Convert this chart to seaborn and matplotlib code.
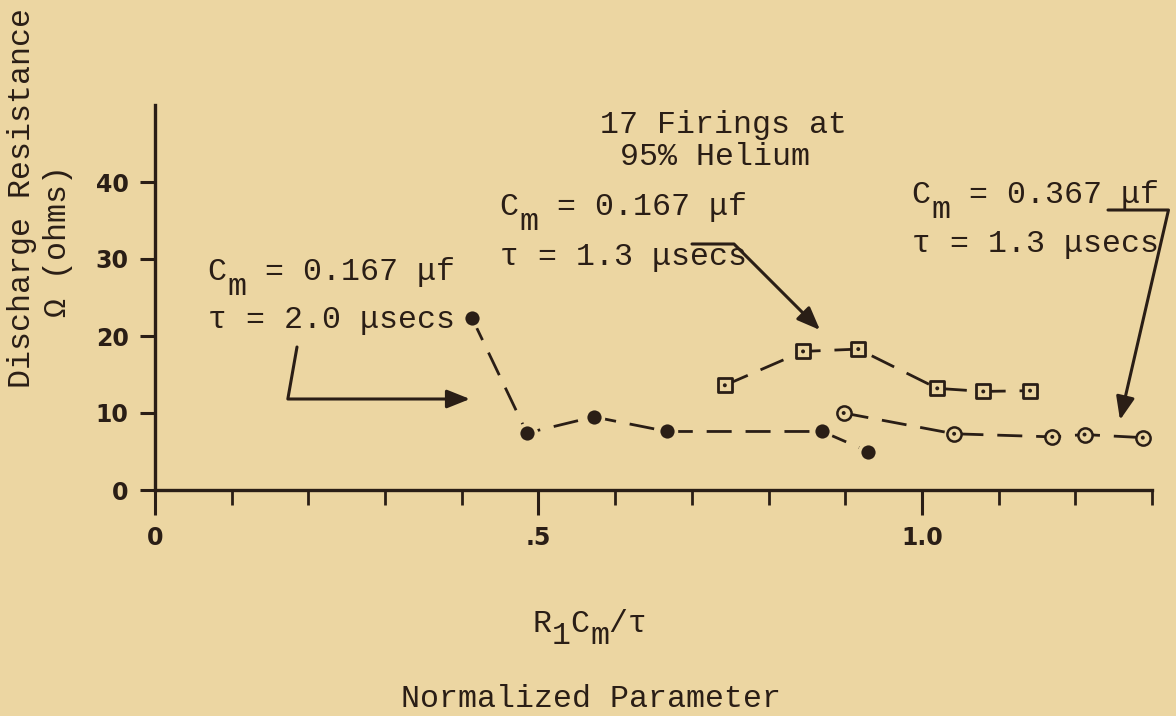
import matplotlib
matplotlib.use("Agg")
import matplotlib.pyplot as plt
from matplotlib.ticker import FixedLocator, MultipleLocator
import seaborn as sns

# ---------------- data ----------------
x_tau20 = [0.413, 0.485, 0.572, 0.668, 0.870, 0.930]
y_tau20 = [22.4, 7.4, 9.5, 7.6, 7.6, 5.0]

x_c167_tau13 = [0.743, 0.845, 0.917, 1.020, 1.080, 1.141]
y_c167_tau13 = [13.6, 18.0, 18.3, 13.2, 12.8, 12.9]

x_c367_tau13 = [0.898, 1.042, 1.170, 1.212, 1.288]
y_c367_tau13 = [10.0, 7.3, 6.9, 7.2, 6.8]

x_major_ticks = [0, 0.5, 1.0]
x_tick_labels = ["0", ".5", "1.0"]
y_ticks = [0, 10, 20, 30, 40]
y_tick_labels = ["0", "10", "20", "30", "40"]

# ---------------- style ----------------
BG = "#ECD6A2"
INK = "#2A1E16"
W, H = 1176, 716
FS = 22.8          # typewriter text size (pt)
MONO = ["Liberation Mono", "DejaVu Sans Mono"]

sns.set_theme(style="white", rc={"axes.facecolor": BG, "figure.facecolor": BG,
                                 "xtick.bottom": True, "ytick.left": True})
plt.rcParams["font.family"] = MONO


def fx(px):
    return px / W


def fy(py):
    return 1 - py / H


fig = plt.figure(figsize=(W / 100, H / 100), dpi=100, facecolor=BG)
ax = fig.add_axes([fx(155), fy(490), (1152 - 155) / W, (490 - 105) / H])
ax.set_facecolor(BG)

dash = (0, (9, 5))
for xs, ys in [(x_tau20, y_tau20), (x_c167_tau13, y_c167_tau13),
               (x_c367_tau13, y_c367_tau13)]:
    sns.lineplot(x=xs, y=ys, ax=ax, color=INK, linewidth=2.0, linestyle=dash,
                 sort=False, estimator=None, zorder=2)

# filled circles
sns.scatterplot(x=x_tau20, y=y_tau20, ax=ax, marker="o", s=165, color=INK,
                edgecolor=BG, linewidth=2.6, zorder=4, clip_on=False)
# squares with a dot
sns.scatterplot(x=x_c167_tau13, y=y_c167_tau13, ax=ax, marker="s", s=95,
                color=BG, edgecolor=INK, linewidth=2.0, zorder=4, clip_on=False)
sns.scatterplot(x=x_c167_tau13, y=y_c167_tau13, ax=ax, marker="o", s=8,
                color=INK, edgecolor="none", zorder=5, clip_on=False)
# circles with a dot
sns.scatterplot(x=x_c367_tau13, y=y_c367_tau13, ax=ax, marker="o", s=105,
                color=BG, edgecolor=INK, linewidth=1.8, zorder=4, clip_on=False)
sns.scatterplot(x=x_c367_tau13, y=y_c367_tau13, ax=ax, marker="o", s=8,
                color=INK, edgecolor="none", zorder=5, clip_on=False)

# ---------------- axes ----------------
ax.set_xlim(0, 1.3)
ax.set_ylim(0, 50)
sns.despine(ax=ax)
for s in ("left", "bottom"):
    ax.spines[s].set_color(INK)
    ax.spines[s].set_linewidth(2.4)

ax.xaxis.set_major_locator(FixedLocator(x_major_ticks))
ax.xaxis.set_minor_locator(MultipleLocator(0.1))
ax.set_xticklabels(x_tick_labels)
ax.set_yticks(y_ticks)
ax.set_yticklabels(y_tick_labels)
ax.tick_params(axis="x", which="both", bottom=True)
ax.tick_params(axis="y", which="both", left=True)
ax.tick_params(axis="x", which="major", direction="out", length=18, width=2.2,
               color=INK, pad=8, labelsize=17, labelcolor=INK)
ax.tick_params(axis="x", which="minor", direction="out", length=11, width=2.0,
               color=INK)
ax.tick_params(axis="y", which="major", direction="out", length=11, width=2.2,
               color=INK, pad=8, labelsize=17, labelcolor=INK)
for lab in ax.get_xticklabels() + ax.get_yticklabels():
    lab.set_fontfamily(["DejaVu Sans"])
    lab.set_fontweight("bold")
ax.grid(False)

# ---------------- texts ----------------
CW = 19.0   # character cell width in px


def tline(x, y, s, **kw):
    fig.text(fx(x), fy(y), s, ha="left", va="baseline", fontsize=FS,
             color=INK, family=MONO, **kw)


def cm_line(x, y, value):
    tline(x, y, "C  = " + value)
    tline(x + CW, y + 15, "m")


# top centre note
tline(600, 133, "17 Firings at")
tline(620, 165, "95% Helium")

# left block
cm_line(208, 280, "0.167 μf")
tline(208, 328, "τ = 2.0 μsecs")

# middle block
cm_line(500, 215, "0.167 μf")
tline(500, 265, "τ = 1.3 μsecs")

# right block
cm_line(912, 203, "0.367 μf")
tline(912, 252, "τ = 1.3 μsecs")

# x labels
tline(533, 632, "R C /τ")
tline(533 + CW, 644, "1")
tline(533 + 3 * CW, 644, "m")
tline(401, 707, "Normalized Parameter")

# y label
fig.text(fx(22), fy(198), "Discharge Resistance", rotation=90, ha="center",
         va="center", fontsize=FS, color=INK, family=MONO)
fig.text(fx(58), fy(241), "Ω (ohms)", rotation=90, ha="center",
         va="center", fontsize=FS, color=INK, family=MONO)

# ---------------- arrows ----------------
arrow_kw = dict(arrowstyle="-|>,head_length=0.7,head_width=0.28",
                color=INK, lw=2.2, shrinkA=0, shrinkB=0, mutation_scale=20)


def arrow(a, b, cs):
    ax.annotate("", xy=(fx(b[0]), fy(b[1])), xycoords="figure fraction",
                xytext=(fx(a[0]), fy(a[1])), textcoords="figure fraction",
                arrowprops=dict(connectionstyle=cs, **arrow_kw),
                annotation_clip=False)


arrow((297, 347), (470, 399), "angle,angleA=-100,angleB=0,rad=0")
arrow((692, 244), (820, 330), "angle,angleA=0,angleB=135,rad=0")
arrow((1108, 210), (1120, 420), "angle,angleA=0,angleB=77,rad=0")

fig.savefig("out.png", dpi=100, facecolor=BG)
